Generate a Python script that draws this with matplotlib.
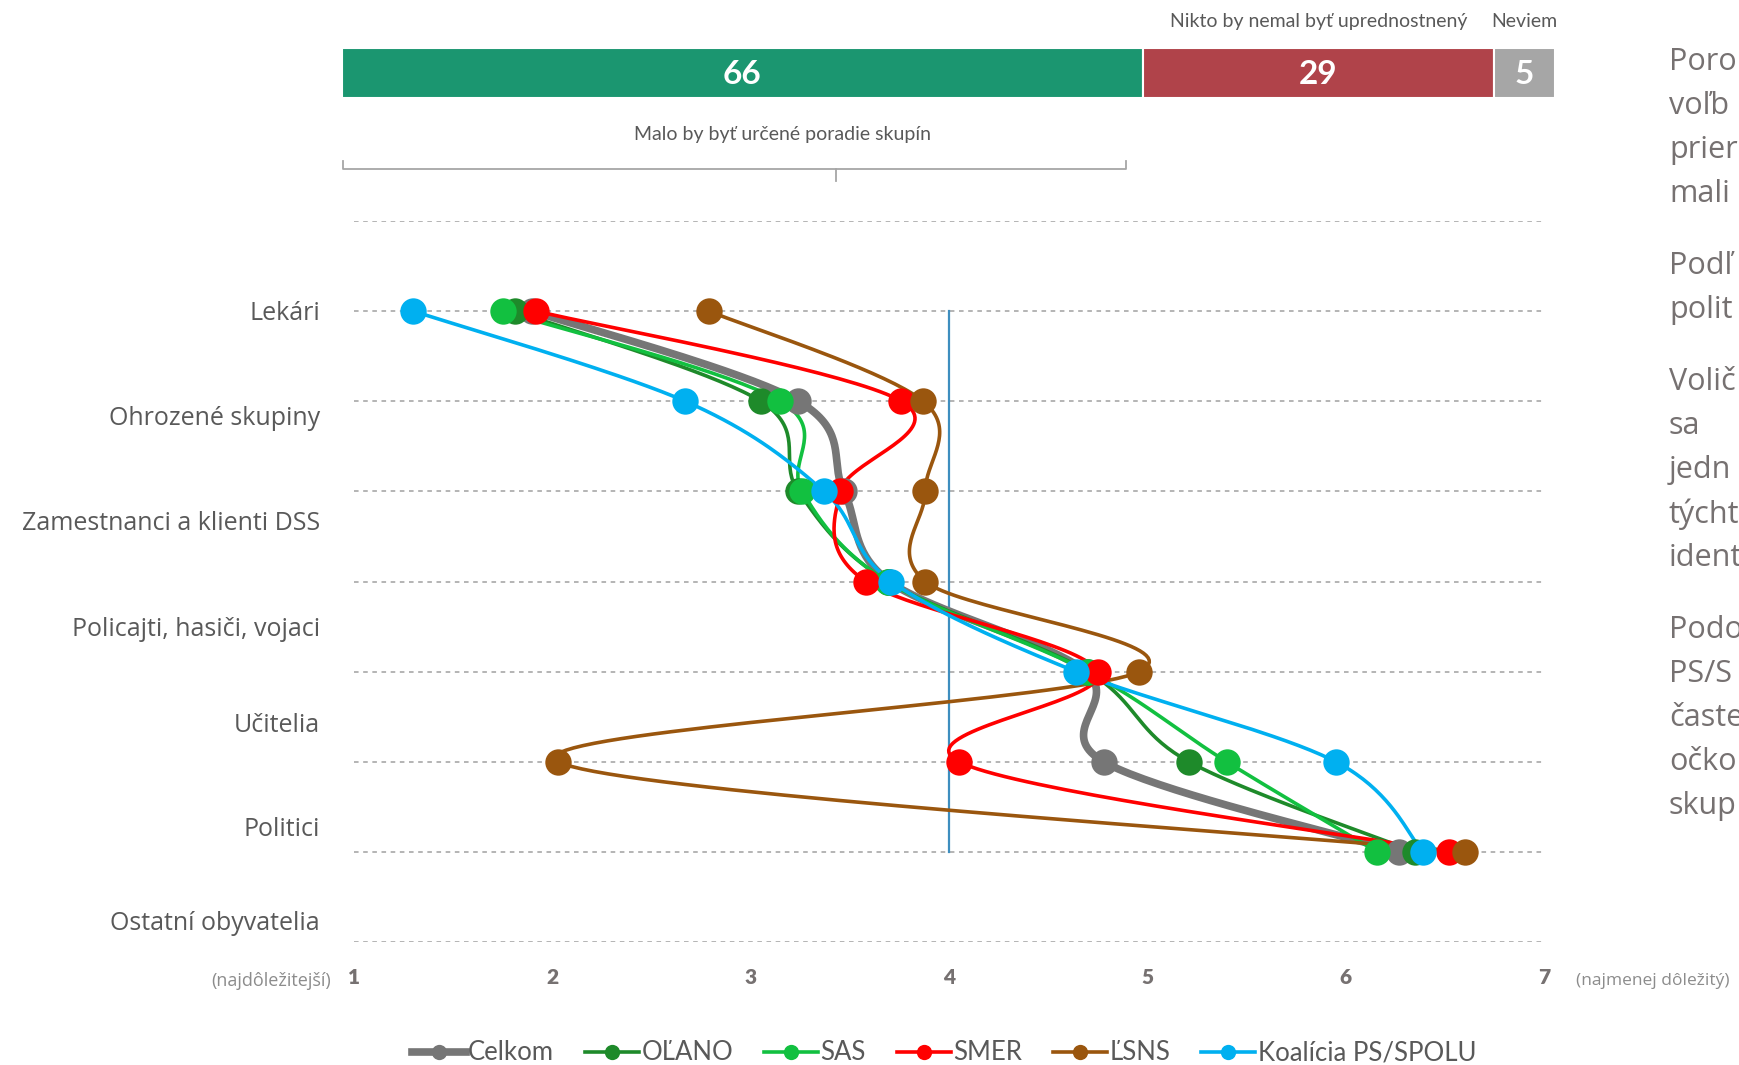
import numpy as np
import matplotlib
matplotlib.use('Agg')
import matplotlib.pyplot as plt
from matplotlib.lines import Line2D

# categories (top to bottom) and their y positions
Categories = ['Lekári', 'Ohrozené skupiny', 'Zamestnanci a klienti DSS',
              'Policajti, hasiči, vojaci', 'Učitelia', 'Politici', 'Ostatní obyvatelia']
YPos = [7, 6, 5, 4, 3, 2, 1]

# average rank per group
Celkom = [1.90, 3.24, 3.47, 3.70, 4.69, 4.78, 6.27]
OLANO = [1.81, 3.05, 3.24, 3.69, 4.70, 5.21, 6.35]
SAS = [1.75, 3.15, 3.26, 3.69, 4.70, 5.40, 6.16]
SMER = [1.92, 3.76, 3.45, 3.58, 4.75, 4.05, 6.52]
LSNS = [2.79, 3.87, 3.88, 3.88, 4.96, 2.03, 6.60]
PSSPOLU = [1.30, 2.67, 3.37, 3.71, 4.64, 5.95, 6.39]

SeriesNames = ['Celkom', 'OĽANO', 'SAS', 'SMER', 'ĽSNS', 'Koalícia PS/SPOLU']
SeriesValues = [Celkom, OLANO, SAS, SMER, LSNS, PSSPOLU]
SeriesColors = ['#767676', '#1E8A2A', '#12C040', '#FF0000', '#9A560E', '#00B0F0']

# top stacked bar
BarValues = [66, 29, 5]
BarColors = ['#1B9670', '#B0434A', '#A6A6A6']
BarTitles = ['', 'Nikto by nemal byť uprednostnený', 'Neviem']

TickLabels = ['1', '2', '3', '4', '5', '6', '7']

# side commentary, only the part that shows at the right edge
SideText = ['Poro', 'voľb', 'prier', 'mali', None,
            'Podľ', 'polit', None,
            'Volič', 'sa', 'jedn', 'týcht', 'ident', None,
            'Podo', 'PS/S', 'časte', 'očko', 'skup']

narrow = ['Lato', 'DejaVu Sans']
sans = ['Open Sans', 'DejaVu Sans']


def smooth(xs, ys, n=40):
    # bezier spline through the points, like the office "smoothed line"
    P = np.column_stack([xs, ys]).astype(float)
    out = []
    for i in range(len(P) - 1):
        p0 = P[i - 1] if i > 0 else P[i]
        p1 = P[i]
        p2 = P[i + 1]
        p3 = P[i + 2] if i + 2 < len(P) else P[i + 1]
        c1 = p1 + (p2 - p0) / 6
        c2 = p2 - (p3 - p1) / 6
        t = np.linspace(0, 1, n)[:, None]
        seg = (1 - t)**3 * p1 + 3 * (1 - t)**2 * t * c1 + 3 * (1 - t) * t**2 * c2 + t**3 * p2
        out.append(seg)
    out = np.vstack(out)
    return out[:, 0], out[:, 1]


W, H = 1740, 1065
fig = plt.figure(figsize=(W / 100, H / 100), dpi=100)

# main plot
ax = fig.add_axes([354 / W, 1 - 942 / H, (1544 - 354) / W, (942 - 221) / H])
ax.set_xlim(1, 7)
ax.set_ylim(0, 8)
for s in ax.spines.values():
    s.set_visible(False)
for g in range(0, 9):
    ax.axhline(g, color='#A0A0A0', lw=1.1, ls=(0, (3, 3)), zorder=0)
ax.set_yticks([])
ax.set_xticks(range(1, 8))
ax.set_xticklabels(TickLabels, fontsize=15, fontweight='heavy', color='#767171', family=narrow)
ax.tick_params(axis='x', length=0, pad=19)

ax.plot([4, 4], [1, 7], color='#3E8EBF', lw=1.6, zorder=1)

for name, vals, col in zip(SeriesNames, SeriesValues, SeriesColors):
    lw = 5.5 if name == 'Celkom' else 2.6
    sx, sy = smooth(vals, YPos)
    ax.plot(sx, sy, color=col, lw=lw, zorder=2, clip_on=False, solid_capstyle='round')
    ax.plot(vals, YPos, 'o', color=col, ms=19, zorder=3, clip_on=False, mew=0)

# category labels
LabelY = [313, 418, 524, 630, 725, 830, 924]
for lab, yy in zip(Categories, LabelY):
    fig.text(320 / W, 1 - yy / H, lab, ha='right', va='center', fontsize=18,
             color='#595959', family=sans)

fig.text(331 / W, 1 - 981 / H, '(najdôležitejší)', ha='right', va='center',
         fontsize=13, color='#8C8C8C', family=sans)
fig.text(1576 / W, 1 - 981 / H, '(najmenej dôležitý)', ha='left', va='center',
         fontsize=12.5, color='#8C8C8C', family=sans)

# top stacked bar
bx = fig.add_axes([342 / W, 1 - 98 / H, (1555 - 342) / W, 50 / H])
bx.set_xlim(0, 100)
bx.set_ylim(0, 1)
bx.axis('off')
left = 0
for v, c, t in zip(BarValues, BarColors, BarTitles):
    bx.barh(0.5, v, left=left, height=1, color=c, edgecolor='white', lw=1.5)
    bx.text(left + v / 2, 0.47, str(v), ha='center', va='center', color='white',
            fontsize=24, fontweight='bold', family=narrow)
    if t:
        bx.text(left + v / 2, 1.52, t, ha='center', va='center', color='#595959',
                fontsize=14, family=narrow)
    left += v

bx.text(36.3, -0.72, 'Malo by byť určené poradie skupín', ha='center', va='center',
        color='#595959', fontsize=14, family=narrow)
# curly brace under the green part
bx.plot([0.1, 0.1, 64.6, 64.6], [-1.26, -1.42, -1.42, -1.26], color='#A6A6A6', lw=1.3, clip_on=False)
bx.plot([40.7, 40.7], [-1.42, -1.66], color='#A6A6A6', lw=1.3, clip_on=False)

yy = 62
for line in SideText:
    if line is None:
        yy += 28
        continue
    fig.text(1669 / W, 1 - yy / H, line, ha='left', va='center', fontsize=22,
             color='#767171', family=sans)
    yy += 44

# legend
handles = []
for name, col in zip(SeriesNames, SeriesColors):
    lw = 5.5 if name == 'Celkom' else 2.6
    handles.append(Line2D([], [], color=col, lw=lw, marker='o', ms=11, mew=0))
fig.legend(handles, SeriesNames, loc='center', bbox_to_anchor=(944 / W, 1 - 1053 / H),
           ncol=6, frameon=False, handlelength=2.1, handletextpad=0.1, columnspacing=1.2,
           prop={'family': narrow, 'size': 18.5}, labelcolor='#595959')

fig.savefig('out.png', dpi=100)
